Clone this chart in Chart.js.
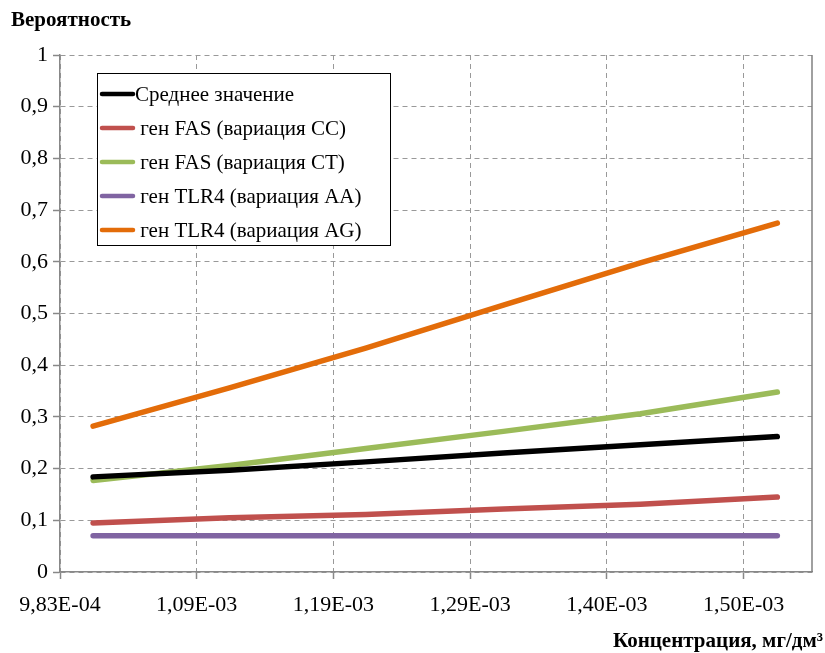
<!DOCTYPE html>
<html>
<head>
<meta charset="utf-8">
<script src="https://cdn.jsdelivr.net/npm/chart.js@4"></script>
<style>
  body { margin: 0; background: #fff; }
  #wrap { width: 825px; height: 653px; }
</style>
</head>
<body>
<div id="wrap"><canvas id="chart"></canvas></div>
<script>
// concentration, mg/dm3
const concentrations = [1.008e-3, 1.111e-3, 1.214e-3, 1.318e-3, 1.4215e-3, 1.525e-3];

const xTickValues = [9.83e-4, 1.0863e-3, 1.1896e-3, 1.2929e-3, 1.3962e-3, 1.4995e-3];
const xTickLabels = ['9,83E-04', '1,09E-03', '1,19E-03', '1,29E-03', '1,40E-03', '1,50E-03'];

const seriesNames = [
  'Среднее значение',
  ' ген FAS (вариация CC)',
  ' ген FAS (вариация CT)',
  ' ген TLR4 (вариация AA)',
  ' ген TLR4 (вариация AG)'
];
const meanValues = [0.184, 0.197, 0.213, 0.230, 0.246, 0.262];
const fasCC = [0.095, 0.105, 0.111, 0.122, 0.131, 0.145];
const fasCT = [0.177, 0.206, 0.239, 0.272, 0.306, 0.348];
const tlr4AA = [0.070, 0.070, 0.070, 0.070, 0.070, 0.070];
const tlr4AG = [0.282, 0.356, 0.433, 0.516, 0.598, 0.675];

const colors = ['#000000', '#C0504D', '#9BBB59', '#8064A2', '#E36C09'];
const FONT = '"Liberation Serif", "Times New Roman", serif';

const toPoints = vals => vals.map((v, i) => ({ x: concentrations[i], y: v }));

// legend box inside the plot + axis titles + right border
const extras = {
  id: 'extras',
  afterDatasetsDraw(chart) {
    const { ctx, chartArea } = chart;
    ctx.save();
    // right border of plot area
    ctx.strokeStyle = '#808080';
    ctx.lineWidth = 1.5;
    ctx.beginPath();
    ctx.moveTo(chartArea.right, chartArea.top);
    ctx.lineTo(chartArea.right, chartArea.bottom);
    ctx.stroke();

    // legend
    const lx = 97, ly = 73, lw = 293, lh = 172;
    ctx.fillStyle = '#fff';
    ctx.fillRect(lx, ly, lw, lh);
    ctx.strokeStyle = '#000';
    ctx.lineWidth = 1;
    ctx.strokeRect(lx + 0.5, ly + 0.5, lw, lh);
    ctx.font = '21px ' + FONT;
    ctx.textBaseline = 'middle';
    chart.data.datasets.forEach((ds, i) => {
      const y = 94 + i * 34;
      ctx.strokeStyle = ds.borderColor;
      ctx.lineWidth = 4.5;
      ctx.lineCap = 'round';
      ctx.beginPath();
      ctx.moveTo(102, y);
      ctx.lineTo(133, y);
      ctx.stroke();
      ctx.fillStyle = '#000';
      ctx.fillText(ds.label, 135, y + 1);
    });

    // axis titles
    ctx.font = 'bold 21px ' + FONT;
    ctx.textBaseline = 'alphabetic';
    ctx.textAlign = 'left';
    ctx.fillText('Вероятность', 11, 26);
    ctx.textAlign = 'right';
    ctx.fillText('Концентрация, мг/дм³', 823, 647);
    ctx.restore();
  }
};

const gridOpts = {
  color: '#999',
  tickLength: 7,
  tickColor: '#888',
  tickBorderDash: [],
  tickWidth: 1.5
};

new Chart(document.getElementById('chart'), {
  type: 'line',
  data: {
    datasets: [meanValues, fasCC, fasCT, tlr4AA, tlr4AG].map((vals, i) => ({
      label: seriesNames[i],
      data: toPoints(vals),
      borderColor: colors[i],
      backgroundColor: colors[i],
      borderWidth: 5.5,
      borderCapStyle: 'round',
      pointRadius: 0,
      tension: 0,
      fill: false
    }))
  },
  options: {
    responsive: true,
    maintainAspectRatio: false,
    animation: false,
    layout: { padding: { top: 55, right: 13, left: 0, bottom: 0 } },
    plugins: { legend: { display: false }, tooltip: { enabled: false } },
    scales: {
      x: {
        type: 'linear',
        min: 9.83e-4,
        max: 1.5512e-3,
        afterBuildTicks: scale => { scale.ticks = xTickValues.map(v => ({ value: v })); },
        afterFit: scale => { scale.height = 81; },
        ticks: {
          callback: (v, i) => xTickLabels[i],
          font: { family: FONT, size: 22 },
          color: '#000',
          padding: 13,
          maxRotation: 0,
          autoSkip: false
        },
        grid: gridOpts,
        border: { color: '#888', width: 1.5, dash: [5, 4] }
      },
      y: {
        min: 0,
        max: 1,
        afterFit: scale => { scale.width = 60; },
        ticks: {
          stepSize: 0.1,
          callback: v => String(Math.round(v * 10) / 10).replace('.', ','),
          font: { family: FONT, size: 22 },
          color: '#000',
          padding: 5
        },
        grid: gridOpts,
        border: { color: '#888', width: 1.5, dash: [5, 4] }
      }
    }
  },
  plugins: [extras]
});
</script>
</body>
</html>
